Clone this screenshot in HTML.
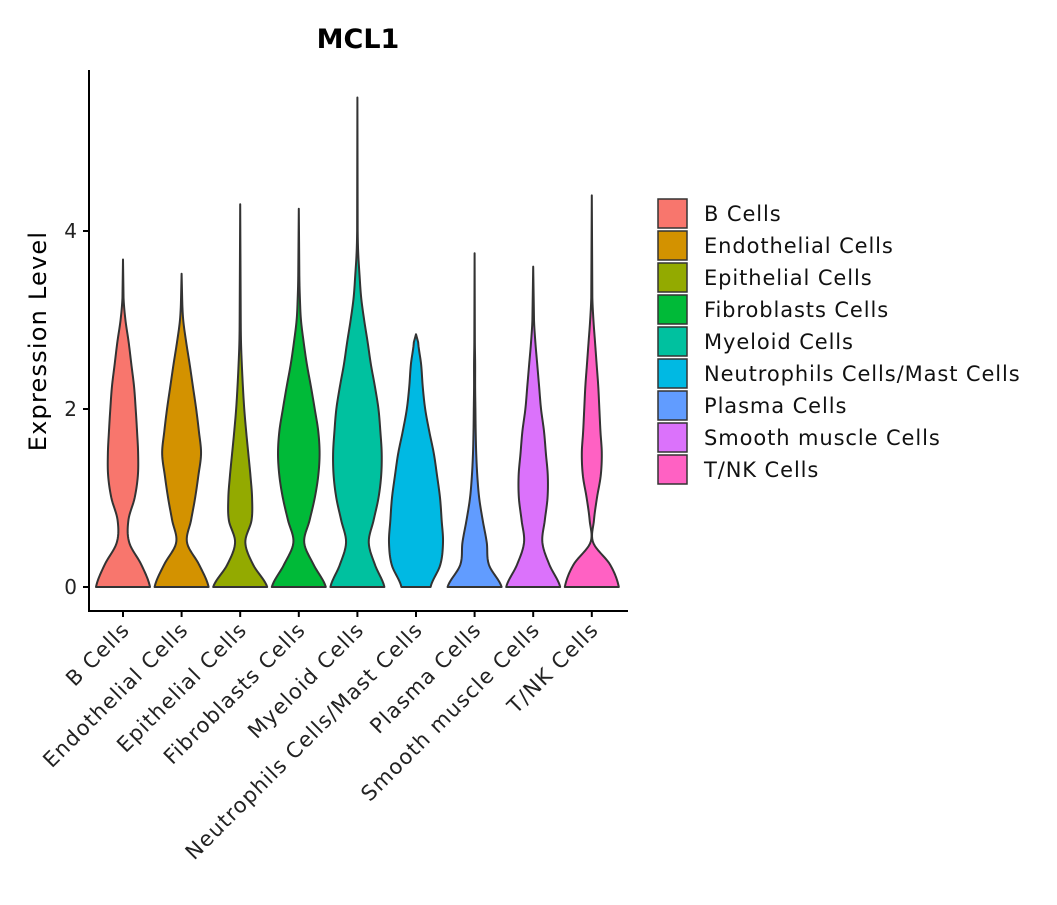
<!DOCTYPE html>
<html><head><meta charset="utf-8"><style>
body{margin:0;background:#fff;font-family:"Liberation Sans","DejaVu Sans",sans-serif;}
</style></head><body>
<svg id="chart" width="1057" height="900" font-family="DejaVu Sans, Liberation Sans, sans-serif">
<text x="358" y="48" text-anchor="middle" font-size="27" font-weight="bold" fill="#000">MCL1</text>
<text transform="translate(46,341) rotate(-90)" text-anchor="middle" font-size="24" letter-spacing="1.2" fill="#000">Expression Level</text>
<g id="plot"></g>
<g id="legend"></g>
</svg>
<script>
const categories=["B Cells","Endothelial Cells","Epithelial Cells","Fibroblasts Cells","Myeloid Cells","Neutrophils Cells/Mast Cells","Plasma Cells","Smooth muscle Cells","T/NK Cells"];
const colors=["#F8766D","#D39200","#93AA00","#00BA38","#00C19F","#00B9E3","#619CFF","#DB72FB","#FF61C3"];
const maxValues=[3.68,3.52,4.3,4.25,5.5,2.84,3.75,3.6,4.4];
// density (relative half-width) at expression levels 0,0.25,0.5,...
const dB=[1.0,0.68,0.23,0.2,0.43,0.55,0.56,0.52,0.47,0.41,0.31,0.21,0.09,0.02];
const dEndo=[1.0,0.65,0.2,0.35,0.5,0.62,0.72,0.64,0.54,0.42,0.3,0.17,0.06,0.02];
const dEpi=[1.0,0.48,0.19,0.42,0.44,0.38,0.3,0.22,0.15,0.1,0.06,0.03,0.02];
const dFib=[1.0,0.55,0.2,0.4,0.59,0.72,0.77,0.72,0.59,0.45,0.3,0.18,0.08,0.04,0.02];
const dMye=[1.0,0.65,0.42,0.6,0.78,0.88,0.9,0.85,0.78,0.65,0.5,0.38,0.25,0.14,0.08,0.03,0.01];
const dNeu=[0.54,0.9,1.0,0.95,0.89,0.78,0.66,0.49,0.34,0.25,0.19,0.08];
const dPla=[1.0,0.53,0.45,0.3,0.17,0.1,0.06,0.04,0.03,0.02,0.02,0.01];
const dSmo=[1.0,0.6,0.34,0.43,0.53,0.54,0.47,0.4,0.29,0.22,0.15,0.08,0.03];
const dTNK=[1.0,0.68,0.05,0.08,0.19,0.33,0.37,0.32,0.28,0.24,0.18,0.12,0.06,0.02];
const densities=[dB,dEndo,dEpi,dFib,dMye,dNeu,dPla,dSmo,dTNK];
const yTicks=[0,2,4];
const step=0.25;

const NS="http://www.w3.org/2000/svg";
const plot=document.getElementById('plot');
const legend=document.getElementById('legend');
const y0=587, unit=89, xLeft=89, xRight=628, yTop=70, yAxisBottom=611;
const xS=i=>123+i*58.6;
const yS=v=>y0-v*unit;
const halfMax=27;
function mk(tag,attrs,parent){const e=document.createElementNS(NS,tag);for(const k in attrs)e.setAttribute(k,attrs[k]);parent.appendChild(e);return e;}

let ax=mk('line',{x1:xLeft,y1:yTop,x2:xLeft,y2:yAxisBottom,stroke:'#000','stroke-width':2},plot);


let bx=mk('line',{x1:xLeft-1,y1:yAxisBottom,x2:xRight,y2:yAxisBottom,stroke:'#000','stroke-width':2},plot);


yTicks.forEach(t=>{
  const tk=mk('line',{x1:xLeft-6,x2:xLeft,y1:yS(t),y2:yS(t),stroke:'#000','stroke-width':2},plot);
  
  
  const tl=mk('text',{x:xLeft-12,y:yS(t)+7,'text-anchor':'end','font-size':20,fill:'#222'},plot);
  tl.textContent=t;
  
  
});

function smoothPts(d,maxV){
  const pts=[];
  const n=d.length;
  const last=Math.min((n-1)*step,maxV);
  const N=120;
  for(let k=0;k<=N;k++){
    const v=last*k/N;
    const f=v/step;let i=Math.floor(f);if(i>=n-1)i=n-2;const t=f-i;
    const p0=d[Math.max(i-1,0)],p1=d[i],p2=d[i+1],p3=d[Math.min(i+2,n-1)];
    let w=0.5*((2*p1)+(-p0+p2)*t+(2*p0-5*p1+4*p2-p3)*t*t+(-p0+3*p1-3*p2+p3)*t*t*t);
    pts.push([v,Math.max(w,0.006)]);
  }
  pts.push([maxV,0]);
  return pts;
}

categories.forEach((c,i)=>{
  const cx=xS(i);
  const pts=smoothPts(densities[i],maxValues[i]);
  let right=pts.map(p=>(cx+p[1]*halfMax).toFixed(2)+','+yS(p[0]).toFixed(2));
  let left=pts.slice().reverse().map(p=>(cx-p[1]*halfMax).toFixed(2)+','+yS(p[0]).toFixed(2));
  const poly=mk('polygon',{points:right.concat(left).join(' '),fill:colors[i],stroke:'#333','stroke-width':2,'stroke-linejoin':'round'},plot);
  
  
  const tk=mk('line',{x1:cx,x2:cx,y1:yAxisBottom,y2:yAxisBottom+6,stroke:'#000','stroke-width':2},plot);
  
  
  const tl=mk('text',{transform:`translate(${cx+8},${yAxisBottom+20}) rotate(-45)`,'text-anchor':'end','font-size':21,'letter-spacing':1.2,fill:'#222'},plot);
  tl.textContent=c;
  
  
  const ly=199+i*32;
  const sq=mk('rect',{x:658,y:ly,width:29,height:29,fill:colors[i],stroke:'#333','stroke-width':1.5},legend);
  
  
  const lt=mk('text',{x:704,y:ly+22,'font-size':21,'letter-spacing':0.9,fill:'#111'},legend);
  lt.textContent=c;
  
  
});
</script>
</body></html>
